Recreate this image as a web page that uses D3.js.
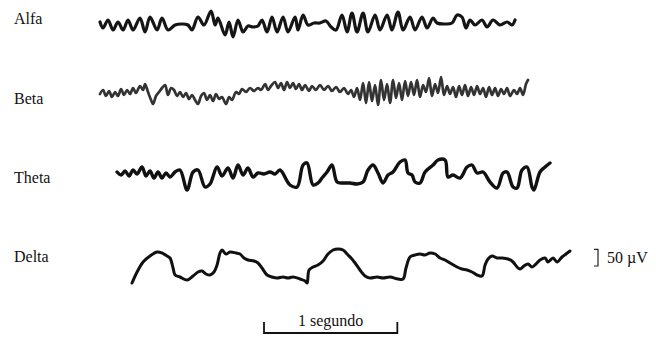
<!DOCTYPE html>
<html>
<head>
<meta charset="utf-8">
<script src="https://d3js.org/d3.v7.min.js"></script>
<style>
  body { margin: 0; background: #fff; }
  text { font-family: "Liberation Serif", "Times New Roman", serif; fill: #111; }
</style>
</head>
<body>
<div id="graph"></div>
<script>

    // EEG traces: [time in ms, amplitude in µV]
    var names = ["Alfa", "Beta", "Theta", "Delta"];

    var alfa = [[0,3],[23,-15],[60,9],[98,-21],[135,3],[173,-21],[210,9],[248,-21],[300,15],[338,-27],
        [375,18],[428,-21],[465,15],[510,-21],[563,-6],[615,-3],[660,-6],[690,-21],[735,18],[780,-6],
        [833,36],[863,-6],[885,15],[938,-36],[968,3],[998,-42],[1035,9],[1073,-27],[1110,-9],[1148,-12],
        [1185,-9],[1215,9],[1253,-27],[1290,18],[1328,-27],[1373,18],[1410,-27],[1463,18],[1485,-21],[1523,24],
        [1560,-6],[1605,0],[1650,0],[1695,6],[1733,-12],[1770,-21],[1815,24],[1853,-27],[1890,30],[1928,-27],
        [1973,30],[2010,-27],[2063,24],[2100,-21],[2153,24],[2190,-21],[2235,33],[2273,-21],[2325,18],[2363,-21],
        [2415,18],[2453,-15],[2498,15],[2528,0],[2588,-3],[2640,0],[2678,24],[2715,18],[2745,-15],[2775,9],
        [2813,-6],[2865,9],[2903,-12],[2948,9],[3000,-6],[3053,3],[3090,-6],[3113,9]];

    var beta = [[0,-3],[23,9],[45,-9],[68,6],[90,-12],[113,3],[135,-9],[158,12],[180,-6],[203,9],
        [225,-3],[248,15],[270,0],[300,21],[323,9],[338,27],[360,3],[383,-21],[398,-33],[420,-9],
        [443,3],[465,15],[488,24],[510,-6],[533,15],[555,9],[578,-9],[600,3],[623,-12],[645,0],
        [668,-18],[690,-6],[713,-21],[735,-33],[758,-9],[780,0],[803,-21],[825,-6],[848,-24],[870,-3],
        [893,-18],[915,-12],[945,-33],[968,-12],[990,-21],[1020,3],[1043,-3],[1065,12],[1095,3],[1125,15],
        [1155,6],[1185,15],[1208,9],[1238,27],[1260,9],[1283,21],[1313,33],[1335,15],[1358,30],[1380,9],
        [1403,33],[1425,15],[1448,30],[1470,12],[1493,27],[1515,9],[1538,24],[1568,6],[1590,21],[1620,9],
        [1650,24],[1680,9],[1710,21],[1740,6],[1770,18],[1800,3],[1830,15],[1860,-3],[1883,9],[1905,-12],
        [1928,15],[1950,-21],[1973,30],[1995,-30],[2018,33],[2040,-24],[2063,24],[2085,-36],[2108,39],[2130,-21],
        [2153,27],[2175,-30],[2198,39],[2220,-15],[2243,30],[2265,-21],[2288,36],[2310,-9],[2333,33],[2355,-6],
        [2378,39],[2400,-12],[2423,24],[2445,3],[2468,45],[2490,-9],[2513,27],[2535,0],[2558,48],[2580,-6],
        [2603,21],[2625,-3],[2648,18],[2670,-12],[2693,21],[2715,-6],[2738,24],[2760,-9],[2783,18],[2805,-6],
        [2828,21],[2850,-3],[2873,15],[2895,-12],[2918,18],[2940,-6],[2963,15],[2985,-9],[3008,12],[3030,-3],
        [3053,15],[3075,-9],[3105,9],[3128,-3],[3150,15],[3173,-6],[3195,27],[3210,39]];

    var theta = [[128,9],[158,0],[188,12],[218,-3],[248,15],[278,3],[315,24],[345,-3],[375,12],[405,-9],
        [435,9],[465,-9],[495,6],[525,-6],[563,9],[600,15],[653,-45],[698,9],[735,15],[788,-36],
        [825,-27],[878,24],[915,-3],[960,21],[998,-9],[1035,30],[1073,0],[1110,21],[1148,-6],[1185,6],
        [1230,3],[1275,9],[1313,3],[1350,15],[1425,-30],[1478,-36],[1523,30],[1553,36],[1598,-30],[1635,-24],
        [1665,-9],[1703,9],[1740,30],[1778,-21],[1823,-24],[1875,-24],[1928,-27],[1973,-21],[2010,15],[2048,30],
        [2085,6],[2123,-24],[2160,0],[2198,9],[2250,39],[2288,45],[2310,6],[2340,0],[2363,-21],[2400,-24],
        [2438,9],[2498,30],[2535,45],[2588,45],[2610,-6],[2648,0],[2700,-9],[2753,24],[2790,30],[2828,6],
        [2873,9],[2925,-21],[2978,-39],[3023,6],[3053,9],[3098,-36],[3128,-39],[3165,15],[3203,24],[3240,-36],
        [3255,-45],[3300,9],[3338,24],[3375,36]];

    var delta = [[240,-54],[278,-21],[323,9],[375,27],[428,39],[465,36],[503,27],[525,21],[548,-9],[563,-30],
        [600,-36],[653,-45],[698,-33],[735,-21],[765,-18],[795,-27],[825,-30],[855,-21],[878,0],[900,36],
        [915,45],[945,33],[975,39],[1020,36],[1050,33],[1080,21],[1110,15],[1155,12],[1185,6],[1215,-9],
        [1253,-30],[1290,-36],[1328,-39],[1373,-36],[1410,-39],[1448,-36],[1500,-42],[1538,-48],[1553,-54],[1568,-15],
        [1598,-6],[1635,0],[1673,12],[1710,33],[1748,45],[1785,48],[1823,45],[1853,33],[1883,21],[1913,6],
        [1950,-15],[1988,-33],[2025,-39],[2078,-36],[2123,-39],[2175,-36],[2235,-42],[2273,-42],[2295,-9],[2325,24],
        [2363,30],[2400,33],[2438,30],[2475,36],[2513,33],[2550,21],[2588,15],[2625,6],[2678,-6],[2715,-12],
        [2753,-15],[2790,-21],[2828,-30],[2865,-33],[2888,0],[2910,18],[2940,27],[2978,21],[3015,21],[3060,18],
        [3098,9],[3128,-6],[3150,-12],[3180,-3],[3210,3],[3240,-6],[3270,3],[3300,15],[3338,21],[3360,9],
        [3398,21],[3428,9],[3465,24],[3495,33],[3525,42]];

    var timeBar = [1230, 2230];          // 1 s
    var timeLabel = "1 segundo";
    var ampBar = [-3, 47];               // 50 µV
    var ampLabel = "50 µV";

    var width = 656, height = 337;

    var svg = d3.select("#graph")
        .append("svg")
        .attr("width", width)
        .attr("height", height);

    var x = d3.scaleLinear()
        .domain([0, 3750])
        .range([100, 600]);

    // amplitude offset around each row's baseline
    var y = d3.scaleLinear()
        .domain([-60, 60])
        .range([20, -20]);

    var rows = [
        { data: alfa,  base: 23,  labelY: 24,  stroke: "#151515", w: 3.2 },
        { data: beta,  base: 93,  labelY: 104, stroke: "#333",    w: 2.7 },
        { data: theta, base: 175, labelY: 183, stroke: "#111",    w: 3.4 },
        { data: delta, base: 265, labelY: 262, stroke: "#111",    w: 3 }
    ];

    var line = d3.line()
        .x(function (d) { return x(d[0]); })
        .y(function (d) { return y(d[1]); })
        .curve(d3.curveCatmullRom.alpha(0.5));

    rows.forEach(function (r, i) {
        svg.append("text")
            .attr("x", 14)
            .attr("y", r.labelY)
            .style("font-size", "16px")
            .text(names[i]);

        svg.append("g")
            .attr("transform", "translate(0," + r.base + ")")
            .append("path")
            .datum(r.data)
            .attr("d", line)
            .attr("fill", "none")
            .attr("stroke", r.stroke)
            .attr("stroke-width", r.w)
            .attr("stroke-linejoin", "round")
            .attr("stroke-linecap", "round");
    });

    // 50 µV calibration bracket next to the delta row
    var cal = svg.append("g")
        .attr("transform", "translate(0," + rows[3].base + ")");
    var bx = 598;
    cal.append("path")
        .attr("d", "M" + (bx - 4) + "," + y(ampBar[1]) + "H" + bx + "V" + y(ampBar[0]) + "H" + (bx - 4))
        .attr("fill", "none")
        .attr("stroke", "#222")
        .attr("stroke-width", 1.2);
    svg.append("text")
        .attr("x", 607)
        .attr("y", 263)
        .style("font-size", "16px")
        .text(ampLabel);

    // 1 s time bar
    var by = 333;
    svg.append("path")
        .attr("d", "M" + x(timeBar[0]) + "," + (by - 11) + "V" + by + "H" + x(timeBar[1]) + "V" + (by - 11))
        .attr("fill", "none")
        .attr("stroke", "#111")
        .attr("stroke-width", 1.8);
    svg.append("text")
        .attr("x", (x(timeBar[0]) + x(timeBar[1])) / 2)
        .attr("y", 326)
        .attr("text-anchor", "middle")
        .style("font-size", "16px")
        .text(timeLabel);

</script>
</body>
</html>
